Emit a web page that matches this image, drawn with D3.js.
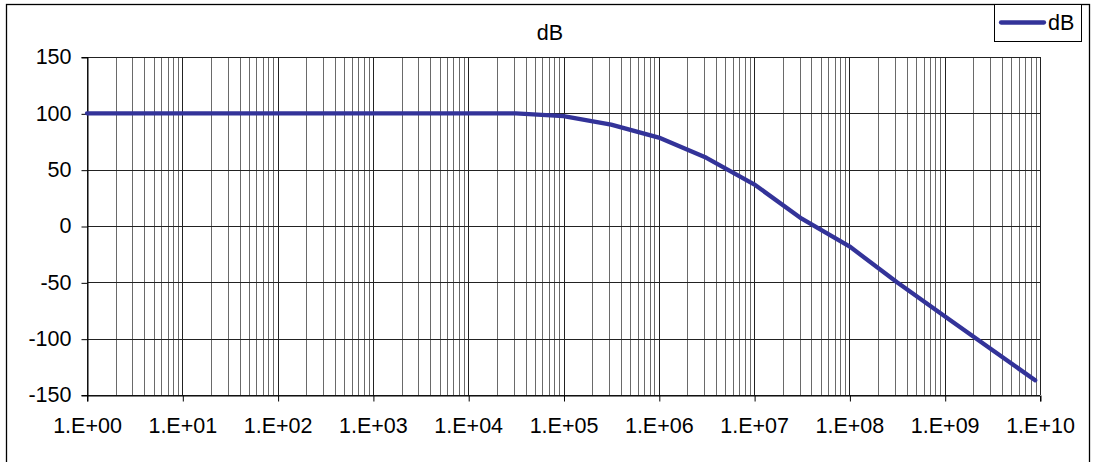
<!DOCTYPE html>
<html>
<head>
    <meta charset="utf-8">
    <style>
        body { margin: 0; background: #fff; }
        text { font-family: "Liberation Sans", Arial, sans-serif; }
    </style>
</head>
<body>
    <script src="https://cdn.jsdelivr.net/npm/d3@7"></script>
    <script>
        // frequency points (half decade steps) and gain in dB
        var freqs = [1, 3.16, 10, 31.6, 100, 316, 1e3, 3.16e3, 1e4, 3.16e4,
                     1e5, 3.16e5, 1e6, 3.16e6, 1e7, 3.16e7, 1e8, 3.16e8, 1e9, 3.16e9, 8.9e9];
        var gainDb = [100, 100, 100, 100, 100, 100, 100, 100, 100, 100,
                      97.5, 90, 78.5, 60.5, 37, 6.5, -18, -50, -80, -110, -137];
        var xTickValues = [1, 1e1, 1e2, 1e3, 1e4, 1e5, 1e6, 1e7, 1e8, 1e9, 1e10];
        var xTickLabels = ["1.E+00", "1.E+01", "1.E+02", "1.E+03", "1.E+04", "1.E+05",
                           "1.E+06", "1.E+07", "1.E+08", "1.E+09", "1.E+10"];
        var yTickValues = [150, 100, 50, 0, -50, -100, -150];
        var seriesName = "dB";
        var chartTitle = "dB";

        var width = 1094, height = 462;
        var plot = { left: 87, right: 1040, top: 57, bottom: 395 };
        var lineColor = '#333399';
        var fontSize = 21.5;

        var x = d3.scaleLog().domain([1, 1e10]).range([plot.left, plot.right]);
        var y = d3.scaleLinear().domain([-150, 150]).range([plot.bottom, plot.top]);

        var svg = d3.select('body').append('svg')
            .attr('width', width)
            .attr('height', height);

        svg.append('rect')
            .attr('width', width).attr('height', height)
            .attr('fill', '#fff');

        // outer chart border
        svg.append('rect')
            .attr('x', 6.5).attr('y', 4.5)
            .attr('width', 1083).attr('height', 470)
            .attr('fill', 'none')
            .attr('stroke', '#000')
            .attr('stroke-width', 1.3);

        // minor vertical gridlines
        var minorTicks = x.ticks(20).filter(function (d) {
            return xTickValues.indexOf(d) < 0;
        });
        svg.append('g').selectAll('line')
            .data(minorTicks)
            .enter().append('line')
            .attr('x1', function (d) { return Math.round(x(d)) + 0.5; })
            .attr('x2', function (d) { return Math.round(x(d)) + 0.5; })
            .attr('y1', plot.top)
            .attr('y2', plot.bottom)
            .attr('stroke', '#6a6a6a')
            .attr('stroke-width', 1)
            .attr('shape-rendering', 'crispEdges');

        // major vertical gridlines
        svg.append('g').selectAll('line')
            .data(xTickValues)
            .enter().append('line')
            .attr('x1', function (d) { return Math.round(x(d)) + 0.5; })
            .attr('x2', function (d) { return Math.round(x(d)) + 0.5; })
            .attr('y1', plot.top)
            .attr('y2', plot.bottom)
            .attr('stroke', '#222')
            .attr('stroke-width', 1)
            .attr('shape-rendering', 'crispEdges');

        // horizontal gridlines
        svg.append('g').selectAll('line')
            .data(yTickValues)
            .enter().append('line')
            .attr('x1', plot.left)
            .attr('x2', plot.right)
            .attr('y1', function (d) { return Math.round(y(d)) + 0.5; })
            .attr('y2', function (d) { return Math.round(y(d)) + 0.5; })
            .attr('stroke', '#222')
            .attr('stroke-width', 1)
            .attr('shape-rendering', 'crispEdges');

        // axes
        var yAxis = d3.axisLeft(y)
            .tickValues(yTickValues)
            .tickSize(6)
            .tickPadding(10)
            .tickFormat(function (d) { return d; });
        var yAxisNodes = svg.append('g')
            .attr('transform', 'translate(' + (plot.left + 0.5) + ',0)')
            .call(yAxis);

        var xAxis = d3.axisBottom(x)
            .tickValues(xTickValues)
            .tickSize(6)
            .tickPadding(16)
            .tickFormat(function (d, i) { return xTickLabels[i]; });
        var xAxisNodes = svg.append('g')
            .attr('transform', 'translate(0,' + (plot.bottom + 0.5) + ')')
            .call(xAxis);

        styleAxisNodes(yAxisNodes);
        styleAxisNodes(xAxisNodes);
        yAxisNodes.selectAll('.tick line').attr('transform', 'translate(0,0.5)');
        xAxisNodes.selectAll('.tick line').attr('transform', 'translate(0.5,0)');

        // series line
        var data = freqs.map(function (f, i) { return { f: f, v: gainDb[i] }; });
        var line = d3.line()
            .x(function (d) { return x(d.f); })
            .y(function (d) { return y(d.v); });
        svg.append('path')
            .datum(data)
            .attr('d', line)
            .attr('fill', 'none')
            .attr('stroke', lineColor)
            .attr('stroke-width', 4.3)
            .attr('stroke-linejoin', 'round')
            .attr('stroke-linecap', 'round');

        // title
        svg.append('text')
            .attr('x', 550)
            .attr('y', 40)
            .attr('text-anchor', 'middle')
            .attr('font-size', fontSize)
            .attr('fill', '#000')
            .text(chartTitle);

        // legend
        var legend = svg.append('g');
        legend.append('rect')
            .attr('x', 994.5).attr('y', 4.5)
            .attr('width', 87).attr('height', 37)
            .attr('fill', '#fff')
            .attr('stroke', '#000')
            .attr('stroke-width', 1);
        legend.append('line')
            .attr('x1', 1001).attr('x2', 1044)
            .attr('y1', 22.5).attr('y2', 22.5)
            .attr('stroke', lineColor)
            .attr('stroke-width', 4.3)
            .attr('stroke-linecap', 'round');
        legend.append('text')
            .attr('x', 1048)
            .attr('y', 30)
            .attr('font-size', fontSize)
            .attr('fill', '#000')
            .text(seriesName);

        function styleAxisNodes(axisNodes) {
            axisNodes.selectAll('.domain')
                .attr('fill', 'none')
                .attr('stroke', '#000')
                .attr('stroke-width', 1);
            axisNodes.selectAll('.tick line')
                .attr('stroke', '#000')
                .attr('stroke-width', 1);
            axisNodes.selectAll('.tick text')
                .attr('font-size', fontSize)
                .attr('font-family', '"Liberation Sans", Arial, sans-serif')
                .attr('fill', '#000');
        }
    </script>
</body>
</html>
